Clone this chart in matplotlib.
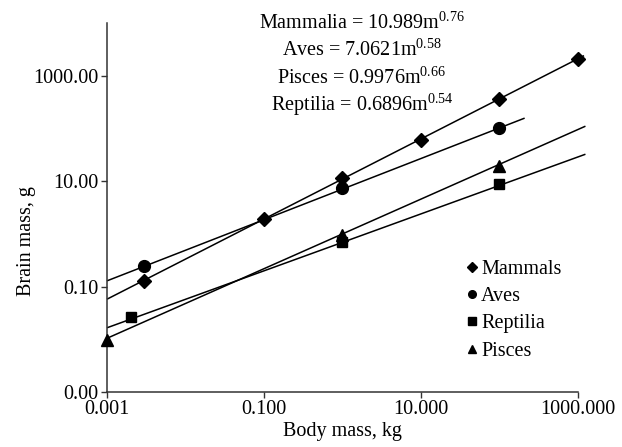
import numpy as np
import matplotlib
matplotlib.use("Agg")
import matplotlib.pyplot as plt
from matplotlib.lines import Line2D
from matplotlib.ticker import FixedLocator, FuncFormatter, NullLocator

plt.rcParams['font.family'] = ['Liberation Serif', 'DejaVu Serif']
plt.rcParams['mathtext.fontset'] = 'custom'
plt.rcParams['mathtext.rm'] = 'Liberation Serif'
plt.rcParams['mathtext.it'] = 'Liberation Serif:italic'

# ---- data ----
groups = ["Mammals", "Aves", "Reptilia", "Pisces"]
eq_names = ["Mammalia", "Aves", "Pisces", "Reptilia"]

mammals_x = [0.003, 0.1, 1, 10, 100, 1000]
mammals_y = [0.13, 1.95, 11.5, 61, 355, 2100]
aves_x = [0.003, 1, 100]
aves_y = [0.25, 7.5, 102]
reptilia_x = [0.002, 1, 100]
reptilia_y = [0.026, 0.71, 8.9]
pisces_x = [0.001, 1, 100]
pisces_y = [0.0098, 0.96, 19.6]

# power-law fits shown on chart: y = a * m^b
coef = {"Mammals": 10.989, "Aves": 7.0621, "Pisces": 0.9976, "Reptilia": 0.6896}
expo = {"Mammals": 0.76, "Aves": 0.58, "Pisces": 0.66, "Reptilia": 0.54}
fit_range = {"Mammals": (0.001, 1200), "Aves": (0.001, 210),
             "Reptilia": (0.001, 1250), "Pisces": (0.001, 1250)}

xticks = [0.001, 0.1, 10, 1000]
yticks = [0.001, 0.1, 10, 1000]

series = {
    "Mammals": (mammals_x, mammals_y, "D", 7.5),
    "Aves": (aves_x, aves_y, "o", 8.5),
    "Reptilia": (reptilia_x, reptilia_y, "s", 7),
    "Pisces": (pisces_x, pisces_y, "^", 8.5),
}

fig = plt.figure(figsize=(6.22, 4.47), dpi=100)
ax = fig.add_axes([0.172, 0.123, 0.757, 0.8255])
ax.set_xscale('log')
ax.set_yscale('log')
ax.set_xlim(0.001, 1000)
ax.set_ylim(0.001, 10000)

for g in groups:
    x0, x1 = fit_range[g]
    xs = np.array([x0, x1])
    ax.plot(xs, coef[g] * xs ** expo[g], color='black', lw=1.1,
            solid_capstyle='butt', clip_on=False, zorder=2)

for g in groups:
    xs, ys, m, ms = series[g]
    ax.plot(xs, ys, linestyle='none', marker=m, markersize=ms,
            color='black', clip_on=False, zorder=3)

ax.xaxis.set_major_locator(FixedLocator(xticks))
ax.yaxis.set_major_locator(FixedLocator(yticks))
ax.xaxis.set_minor_locator(NullLocator())
ax.yaxis.set_minor_locator(NullLocator())
ax.xaxis.set_major_formatter(FuncFormatter(lambda v, p: f"{v:.3f}"))
ax.yaxis.set_major_formatter(FuncFormatter(lambda v, p: f"{v:.2f}"))
ax.tick_params(axis='both', direction='out', length=4, width=1,
               colors='#333333', labelcolor='black', labelsize=14.5, pad=2)

for s in ['top', 'right']:
    ax.spines[s].set_visible(False)
for s in ['left', 'bottom']:
    ax.spines[s].set_color('#333333')
    ax.spines[s].set_linewidth(1.1)

ax.set_xlabel("Body mass, kg", fontsize=14.5, labelpad=2)
ax.set_ylabel("Brain mass, g", fontsize=14.5)
ax.yaxis.set_label_coords(-0.15, 0.41)

# equations
eq_y = [23, 50, 78, 105]
for name, yy in zip(eq_names, eq_y):
    key = "Mammals" if name == "Mammalia" else name
    txt = f"{name} = {coef[key]:g}m$^{{{expo[key]:g}}}$"
    fig.text(362 / 622, 1 - yy / 447, txt, ha='center', va='center', fontsize=14.5)

handles = [Line2D([], [], linestyle='none', marker=series[g][2], color='black',
                  markersize=5.5) for g in groups]
ax.legend(handles, groups, loc='upper left', bbox_to_anchor=(467 / 622, 1 - 260 / 447),
          bbox_transform=fig.transFigure, frameon=False, fontsize=14.5,
          handlelength=0.5, handletextpad=0.2, labelspacing=0.4, borderpad=0,
          borderaxespad=0)

fig.savefig("out.png", dpi=100)
